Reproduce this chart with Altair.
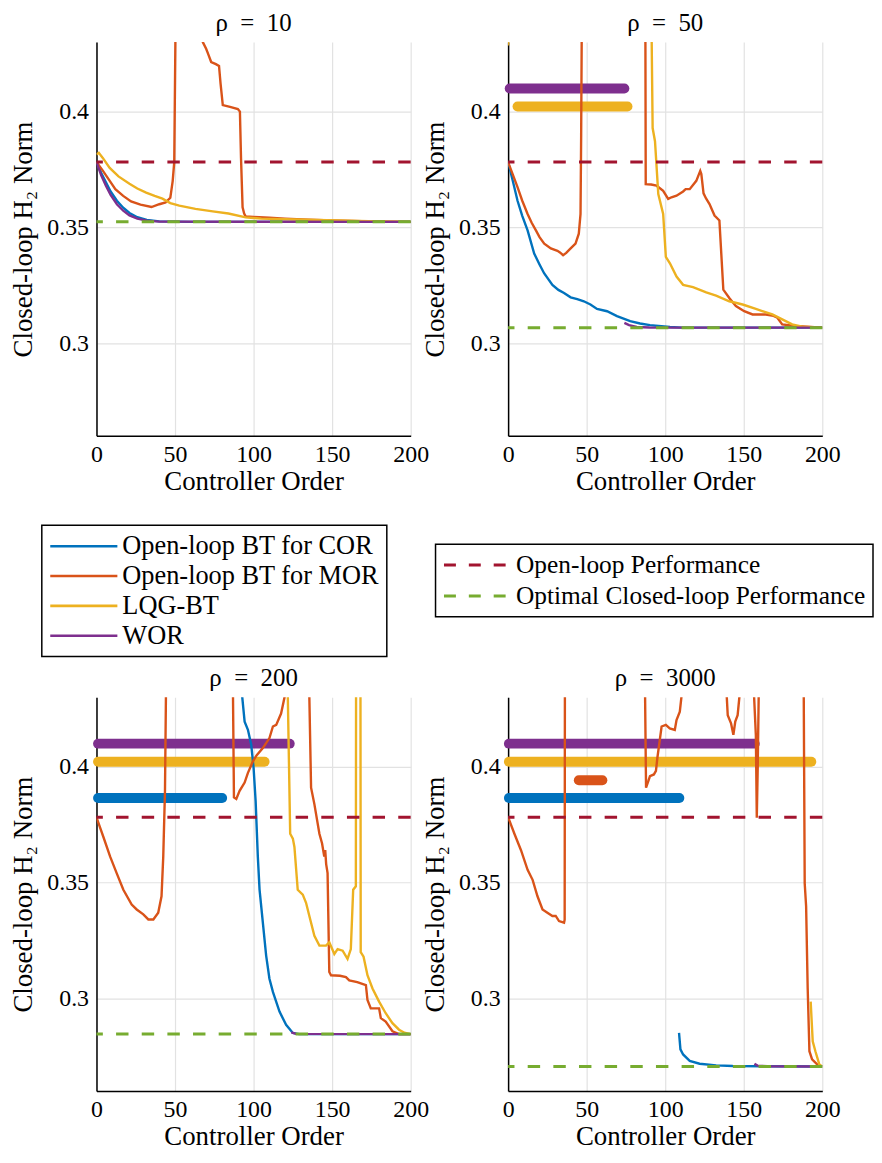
import altair as alt
import pandas as pd

FONT = "Liberation Serif"

RHO_VALUES = [10, 50, 200, 3000]
METHODS = ["Open-loop BT for COR", "Open-loop BT for MOR", "LQG-BT", "WOR"]
METHOD_COLORS = ["#0072BD", "#D95319", "#EDB120", "#7E2F8E"]
REFERENCES = ["Open-loop Performance", "Optimal Closed-loop Performance"]
REFERENCE_COLORS = ["#A2142F", "#77AC30"]
X_TICKS = [0, 50, 100, 150, 200]
Y_TICKS = [0.3, 0.35, 0.4]
X_DOMAIN = [0, 200]
Y_DOMAIN = [0.26, 0.43]

OPEN_LOOP_NORM = [0.3782, 0.3782, 0.3782, 0.3782]
OPTIMAL_NORM = [0.3524, 0.3067, 0.2846, 0.2706]

# level at which unstable orders are marked, per method
BAND_LEVELS = [0.3865, 0.3942, 0.4022, 0.4100]
# (rho, method index, first unstable order, last unstable order)
UNSTABLE = [
    (50, 3, 1, 74), (50, 2, 6, 76),
    (200, 3, 1, 123), (200, 2, 1, 107), (200, 0, 1, 80),
    (3000, 3, 0.5, 157), (3000, 2, 0.5, 193), (3000, 1, 45, 60), (3000, 0, 0.5, 109),
]

# ---- rho = 10 ----
COR_10 = [(0, 0.3782), (3, 0.3735), (6, 0.3695), (9, 0.3655), (13, 0.3615), (17, 0.3585),
          (21, 0.3562), (26, 0.3544), (32, 0.3532), (40, 0.3526), (60, 0.3524), (200, 0.3524)]
MOR_10 = [(0, 0.3782), (4, 0.3745), (8, 0.3705), (12, 0.3665), (17, 0.3636), (22, 0.3612),
          (28, 0.3598), (35, 0.3588), (40, 0.3600), (44, 0.3608), (47, 0.3628), (48.5, 0.3700),
          (49.5, 0.3782), (50.5, 0.45), (51, 0.6), (66, 0.6), (67.7, 0.4300), (69.8, 0.4271),
          (71, 0.4250), (73, 0.4214), (76, 0.4205), (78, 0.4197), (79, 0.4120), (80.4, 0.4028),
          (85, 0.4020), (90, 0.4011), (91.3, 0.4000), (92, 0.3800), (93, 0.3587), (94, 0.3560),
          (95, 0.3547), (100, 0.3545), (110, 0.3542), (120, 0.3538), (135, 0.3533), (150, 0.3530),
          (175, 0.3526), (200, 0.3524)]
LQG_10 = [(0, 0.3815), (1.5, 0.3822), (4, 0.3800), (8.4, 0.3757), (14, 0.3720), (21, 0.3688),
          (26, 0.3668), (31.6, 0.3650), (37, 0.3636), (42, 0.3624), (47, 0.3605), (52.7, 0.3594),
          (63, 0.3580), (74, 0.3569), (84, 0.3560), (95, 0.3543), (105, 0.3538), (120, 0.3535),
          (140, 0.3532), (160, 0.3529), (180, 0.3526), (200, 0.3524)]
WOR_10 = [(0, 0.3782), (3, 0.3725), (6, 0.3680), (9, 0.3640), (13, 0.3600), (17, 0.3572),
          (21, 0.3552), (26, 0.3538), (32, 0.3529), (40, 0.3525), (200, 0.3524)]

# ---- rho = 50 ----
COR_50 = [(0, 0.3782), (3, 0.3700), (6, 0.3615), (9, 0.3550), (12.4, 0.3487), (16.6, 0.3387),
          (20, 0.3340), (22.9, 0.3302), (28.2, 0.3252), (32, 0.3230), (35.6, 0.3217),
          (39.8, 0.3198), (44, 0.3190), (48.2, 0.3181), (52.4, 0.3167), (56.6, 0.3148),
          (63, 0.3138), (69.3, 0.3117), (77.7, 0.3095), (84, 0.3085), (90.3, 0.3078),
          (103, 0.3070), (111, 0.3067), (200, 0.3067)]
MOR_50 = [(0, 0.3782), (3, 0.3728), (6.1, 0.3672), (9, 0.3615), (12.4, 0.3558), (15, 0.3520),
          (17.7, 0.3487), (20, 0.3458), (23, 0.3430), (27.2, 0.3409), (31.4, 0.3399),
          (33, 0.3392), (35, 0.3380), (37, 0.3390), (39.8, 0.3409), (42.9, 0.3430), (45, 0.3473),
          (46.1, 0.3558), (46.5, 0.3900), (47, 0.45), (47.5, 0.6), (87, 0.6), (87.4, 0.4300),
          (87.6, 0.3687), (91, 0.3685), (94.5, 0.3680), (96, 0.3672), (98.7, 0.3658),
          (101.9, 0.3623), (104, 0.3630), (107.2, 0.3637), (111.4, 0.3655), (113, 0.3665),
          (115.6, 0.3665), (119.8, 0.3701), (122.3, 0.3744), (123, 0.3730), (124.4, 0.3647),
          (126, 0.3625), (128.2, 0.3601), (131.4, 0.3551), (134.5, 0.3530), (137, 0.3231),
          (140.8, 0.3195), (145, 0.3160), (150.3, 0.3138), (155.6, 0.3124), (164, 0.3124),
          (169, 0.3118), (171.4, 0.3110), (174.5, 0.3081), (183, 0.3074), (200, 0.3067)]
LQG_50 = [(0, 0.4285), (0.6, 0.45), (1, 0.6), (90.5, 0.6), (91.4, 0.4300), (92, 0.3929),
          (93.5, 0.3872), (95.6, 0.3644), (98.7, 0.3558), (100.4, 0.3373), (103, 0.3345),
          (107.2, 0.3288), (111.4, 0.3252), (117.7, 0.3242), (126.1, 0.3219), (132.4, 0.3205),
          (140.8, 0.3181), (149.3, 0.3167), (157.7, 0.3148), (168.2, 0.3124), (174.5, 0.3103),
          (180.8, 0.3081), (187.2, 0.3071), (200, 0.3067)]
WOR_50 = [(74, 0.3088), (77, 0.3078), (81.9, 0.3070), (90, 0.3068), (200, 0.3067)]

# ---- rho = 200 ----
COR_200 = [(92, 0.6), (92.8, 0.4300), (94.3, 0.4195), (96.4, 0.4160), (98.5, 0.4095),
           (100, 0.3996), (101.3, 0.3853), (102.7, 0.3612), (103.8, 0.3470), (105.9, 0.3327),
           (108, 0.3185), (110.1, 0.3085), (112.3, 0.3028), (116.5, 0.2943), (120.7, 0.2886),
           (125, 0.2851), (129, 0.2846), (200, 0.2846)]
MOR_200 = [(0, 0.3782), (4.4, 0.3697), (8.7, 0.3612), (12.9, 0.3540), (17.1, 0.3469),
           (22.4, 0.3405), (25.6, 0.3384), (29.8, 0.3363), (33, 0.3341), (36.2, 0.3341),
           (39.3, 0.3370), (41.4, 0.3441), (42.5, 0.3612), (43.6, 0.3896), (44.2, 0.4300),
           (44.6, 0.6), (86.5, 0.6), (86.9, 0.4300), (87.5, 0.3868), (89, 0.3861), (91.1, 0.3896),
           (94.3, 0.3932), (96.4, 0.3974), (99.6, 0.4024), (102, 0.4050), (105.9, 0.4081),
           (110.1, 0.4124), (112.3, 0.4174), (114.4, 0.4181), (117.5, 0.4230), (119.7, 0.4300),
           (120.2, 0.6), (135, 0.6), (135.5, 0.4300), (136.6, 0.3910), (138.7, 0.3839),
           (141.9, 0.3711), (143.6, 0.3669), (145, 0.3612), (145.6, 0.3640), (146.2, 0.3580),
           (147.1, 0.3541), (148.2, 0.3114), (149.3, 0.3100), (155, 0.3098), (158.8, 0.3092),
           (160.9, 0.3078), (166, 0.3070), (171.5, 0.3057), (172.5, 0.2993), (174.6, 0.2957),
           (179.9, 0.2957), (181, 0.2915), (184.1, 0.2900), (188.4, 0.2858), (192.6, 0.2846),
           (200, 0.2846)]
LQG_200 = [(121.3, 0.6), (121.8, 0.4300), (123.3, 0.3711), (125, 0.3690), (126, 0.3654),
           (128.1, 0.3469), (131.3, 0.3448), (133.4, 0.3413), (135.5, 0.3356), (138.7, 0.3270),
           (141.9, 0.3228), (146.1, 0.3228), (148.2, 0.3242), (151.4, 0.3192), (153.5, 0.3213),
           (156.7, 0.3206), (159.8, 0.3171), (161.9, 0.3213), (163.4, 0.3469), (165.1, 0.3484),
           (165.5, 0.6), (167.8, 0.6), (168.2, 0.3200), (170, 0.3180), (172.5, 0.3100),
           (175.7, 0.3043), (179.9, 0.2986), (184.1, 0.2936), (188.4, 0.2893), (192.6, 0.2865),
           (196, 0.2852), (200, 0.2846)]
WOR_200 = [(124, 0.2853), (127, 0.2847), (200, 0.2846)]

# ---- rho = 3000 ----
COR_3000 = [(108.8, 0.2851), (109.7, 0.2780), (111.4, 0.2758), (115.6, 0.2730), (121.9, 0.2718),
            (132.4, 0.2711), (143, 0.2708), (200, 0.2706)]
MOR_3000 = [(0, 0.3782), (4, 0.3711), (8.2, 0.3640), (12.4, 0.3555), (15.6, 0.3512),
            (18.7, 0.3441), (21.9, 0.3384), (25, 0.3370), (28.2, 0.3356), (30.3, 0.3356),
            (32.4, 0.3334), (35.6, 0.3327), (36, 0.3340), (36.4, 0.6), (86.8, 0.6),
            (87.2, 0.4300), (87.8, 0.3910), (89.3, 0.3939), (90.3, 0.3960), (92.8, 0.3967),
            (94.1, 0.3982), (95, 0.4038), (97.7, 0.4174), (100.4, 0.4181), (102.9, 0.4166),
            (106.1, 0.4159), (107.2, 0.4202), (109.3, 0.4238), (110.3, 0.4300), (110.8, 0.6),
            (138.8, 0.6), (139.2, 0.4300), (139.8, 0.4223), (141.9, 0.4188), (143.4, 0.4138),
            (144.6, 0.4195), (146.1, 0.4223), (147.2, 0.4300), (147.6, 0.6), (156.2, 0.6),
            (156.6, 0.4300), (157.7, 0.4138), (158.3, 0.3780), (158.9, 0.4000), (159.5, 0.4300),
            (159.9, 0.6), (187.8, 0.6), (188.2, 0.4300), (188.8, 0.3497), (189.7, 0.3398),
            (190.7, 0.3043), (191.8, 0.2772), (193.5, 0.2737), (197.7, 0.2709), (200, 0.2706)]
LQG_3000 = [(192.6, 0.2986), (193.9, 0.2815), (195.6, 0.2772), (198.1, 0.2715), (200, 0.2706)]
WOR_3000 = [(156.8, 0.2718), (158.7, 0.2710), (165, 0.2707), (200, 0.2706)]

CURVES = {
    10: [COR_10, MOR_10, LQG_10, WOR_10],
    50: [COR_50, MOR_50, LQG_50, WOR_50],
    200: [COR_200, MOR_200, LQG_200, WOR_200],
    3000: [COR_3000, MOR_3000, LQG_3000, WOR_3000],
}

# ---- tables ----
curve_rows = []
for rho, series in CURVES.items():
    for m, pts in enumerate(series):
        for k, (o, v) in enumerate(pts):
            curve_rows.append({"rho": rho, "method": METHODS[m], "seq": k, "order": o, "value": v})
curve_df = pd.DataFrame(curve_rows)

band_df = pd.DataFrame([
    {"rho": r, "method": METHODS[m], "order": a, "end": b, "value": BAND_LEVELS[m]}
    for (r, m, a, b) in UNSTABLE
])

ref_rows = []
for i, rho in enumerate(RHO_VALUES):
    ref_rows.append({"rho": rho, "reference": REFERENCES[0], "value": OPEN_LOOP_NORM[i]})
    ref_rows.append({"rho": rho, "reference": REFERENCES[1], "value": OPTIMAL_NORM[i]})
ref_df = pd.DataFrame(ref_rows)

PLOT_W = 316
PLOT_H = 396

# ---- encodings ----
method_legend = alt.Legend(
    title=None, orient="none", legendX=-55, legendY=486,
    symbolType="M-1,0H4.4", symbolSize=625, symbolStrokeWidth=2.6,
    labelFont=FONT, labelFontSize=26.5, labelColor="black", labelOffset=46, labelLimit=0,
    strokeColor="black", fillColor="white", padding=7, rowPadding=2,
)
ref_legend = alt.Legend(
    title=None, orient="none", legendX=341, legendY=505,
    symbolType="M-1,0H4.4", symbolSize=625, symbolStrokeWidth=3, symbolDash=[12, 13],
    labelFont=FONT, labelFontSize=25.5, labelColor="black", labelOffset=46, labelLimit=0,
    strokeColor="black", fillColor="white", padding=7, rowPadding=3,
)

color_enc = alt.Color("method:N", scale=alt.Scale(domain=METHODS, range=METHOD_COLORS),
                      legend=method_legend)
stroke_enc = alt.Stroke("reference:N", scale=alt.Scale(domain=REFERENCES, range=REFERENCE_COLORS),
                        legend=ref_legend)

x_axis = alt.Axis(values=X_TICKS, title="Controller Order", grid=True, ticks=False,
                  labelFlush=False, labelPadding=7, titlePadding=2)
y_axis = alt.Axis(values=Y_TICKS, format=".2~f", title="Closed-loop H\u2082 Norm", grid=True,
                  ticks=False, labelPadding=8, titlePadding=9)


def x_enc():
    return alt.X("order:Q", scale=alt.Scale(domain=X_DOMAIN, nice=False), axis=x_axis)


def y_enc():
    return alt.Y("value:Q", scale=alt.Scale(domain=Y_DOMAIN, nice=False, zero=False), axis=y_axis)


def panel(rho):
    layers = []
    bands = alt.Chart(band_df).transform_filter(alt.datum.rho == rho).mark_rule(
        strokeWidth=10, strokeCap="round"
    ).encode(x=x_enc(), x2="end:Q", y=y_enc(), color=color_enc)
    layers.append(bands)
    for m in METHODS:
        line = alt.Chart(curve_df).transform_filter(
            (alt.datum.rho == rho) & (alt.datum.method == m)
        ).mark_line(strokeWidth=2.4, clip=True).encode(
            x=x_enc(), y=y_enc(), color=color_enc, order=alt.Order("seq:Q")
        )
        layers.append(line)
    refs = alt.Chart(ref_df).transform_filter(alt.datum.rho == rho).mark_rule(
        strokeWidth=3, strokeDash=[12.5, 13.3]
    ).encode(y=y_enc(), stroke=stroke_enc)
    layers.append(refs)
    return alt.layer(*layers).properties(
        width=PLOT_W, height=PLOT_H,
        title=alt.TitleParams(f"\u03c1\u2002=\u2002{rho}", anchor="middle"),
    )


chart = alt.concat(
    panel(10), panel(50), panel(200), panel(3000),
    columns=2, spacing={"row": 263, "column": 98}, bounds="flush",
).properties(
    padding={"left": 2, "top": 0, "right": 0, "bottom": 0}
).configure_axis(
    labelFont=FONT, labelFontSize=24, labelColor="black",
    titleFont=FONT, titleFontSize=27, titleFontWeight="normal", titleColor="black",
    domainColor="black", domainWidth=1.5, gridColor="#e2e2e2", gridWidth=1.2,
).configure_title(
    font=FONT, fontSize=25, fontWeight="normal", color="black", offset=6,
).configure_legend(
    strokeWidth=1.5,
).configure_view(strokeWidth=0)

chart.save("out.html", embed_options={"renderer": "svg", "actions": False})
